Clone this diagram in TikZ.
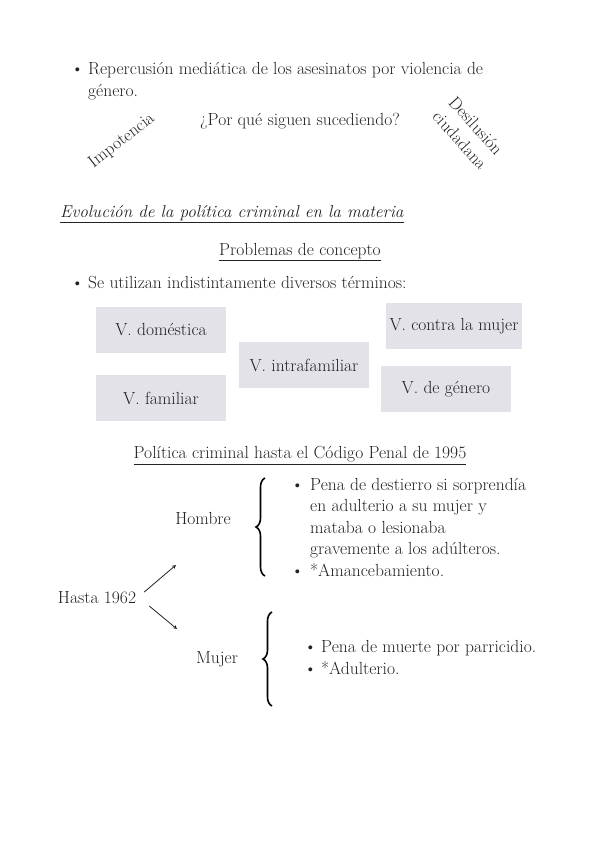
\documentclass[tikz,border=0pt]{standalone}
\usepackage{amsmath}
\usepackage[svgnames]{xcolor}
\usepackage{tikz}
\usetikzlibrary{arrows,shapes}
\usetikzlibrary{positioning}
\usetikzlibrary{decorations.pathreplacing}

\definecolor{boxgray}{HTML}{E2E2E8}
\definecolor{inkgray}{HTML}{222222}

\begin{document}
\begin{tikzpicture}
      [x=1pt, y=1pt,
       every node/.style={text=inkgray, inner sep=0pt, align=left,
         font=\fontsize{17.5}{21.5}\selectfont},
       termbox/.style={fill=boxgray, minimum width=130pt, minimum height=46pt, align=center},
       bracedeco/.style={decorate, decoration={brace, amplitude=9pt}, line width=1.6pt, draw=black},
       tip/.style={->, >=stealth, line width=0.8pt, draw=inkgray}]
      \useasboundingbox (0, 0) rectangle (600, -848);

      % primera parte (base = ultima linea)
      \node (b1) [anchor=base west] at (71, -75) {\textbullet};
      \node (rep) [anchor=base west] at (88, -96.5) {Repercusión mediática de los asesinatos por violencia de\\género.};
      \node (impo) [rotate=38] at (122, -141) {Impotencia};
      \node (porque) [] at (300, -121) {¿Por qué siguen sucediendo?};
      \node (desil) [rotate=-48, align=center] at (468, -133) {Desilusión\\ciudadana};

      % evolucion
      \node (evo) [anchor=base west, font=\fontsize{17.2}{20}\selectfont\itshape] at (60, -217) {\underline{Evolución de la política criminal en la materia}};
      \node (prob) [anchor=base] at (300, -255) {\underline{Problemas de concepto}};
      \node (b2) [anchor=base west] at (71, -288) {\textbullet};
      \node (seut) [anchor=base west] at (88, -288) {Se utilizan indistintamente diversos términos:};

      % terminos
      \node (dom) [termbox] at (161, -330) {V. doméstica};
      \node (fam) [termbox] at (161, -398) {V. familiar};
      \node (intra) [termbox] at (304, -365) {V. intrafamiliar};
      \node (contra) [termbox, minimum width=136pt] at (454, -326) {V. contra la mujer};
      \node (gen) [termbox] at (446, -389) {V. de género};

      % politica criminal
      \node (pol) [anchor=base] at (300, -458) {\underline{Política criminal hasta el Código Penal de 1995}};
      \node (hasta) [] at (97, -598) {Hasta 1962};
      \node (hombre) [] at (203, -518) {Hombre};
      \node (mujer) [] at (217, -659) {Mujer};
      \coordinate (upend) at (176, -565);
      \coordinate (downend) at (177, -629);
      \draw [tip] ([shift={(8,6)}]hasta.east) -- (upend);
      \draw [tip] ([shift={(13,-8)}]hasta.east) -- (downend);

      \draw [bracedeco] (265, -576) -- (265, -478);
      \draw [bracedeco] (272, -706) -- (272, -612);

      \node (b3) [anchor=base west] at (291, -490) {\textbullet};
      \node (pena1) [anchor=base west] at (310, -554.5) {Pena de destierro si sorprendía\\en adulterio a su mujer y\\mataba o lesionaba\\gravemente a los adúlteros.};
      \node (b4) [anchor=base west] at (291, -576) {\textbullet};
      \node (aman) [anchor=base west] at (310, -576) {*Amancebamiento.};

      \node (b5) [anchor=base west] at (304, -652) {\textbullet};
      \node (pena2) [anchor=base west] at (321, -652) {Pena de muerte por parricidio.};
      \node (b6) [anchor=base west] at (304, -674) {\textbullet};
      \node (adul) [anchor=base west] at (321, -674) {*Adulterio.};
    \end{tikzpicture}
\end{document}
